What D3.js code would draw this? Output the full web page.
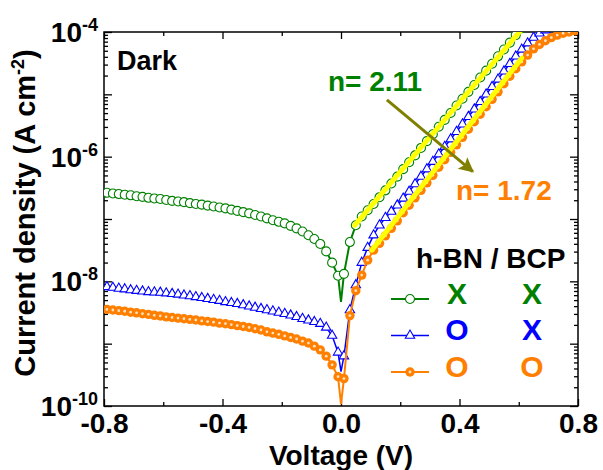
<!DOCTYPE html>
<html>
<head>
<meta charset="utf-8">
<script src="https://cdn.jsdelivr.net/npm/d3@7/dist/d3.min.js"></script>
<style>
body { margin: 0; background: #fff; }
svg text { font-family: Arial, "Liberation Sans", sans-serif; font-weight: bold; }
</style>
</head>
<body>
<div id="chart"></div>
<script>
// bias sweep (V); the 0 V point is drawn as a line spike only
var voltage = [
  -0.79, -0.77, -0.75, -0.73, -0.71, -0.69, -0.67, -0.65, -0.63, -0.61,
  -0.59, -0.57, -0.55, -0.53, -0.51, -0.49, -0.47, -0.45, -0.43, -0.41,
  -0.39, -0.37, -0.35, -0.33, -0.31, -0.29, -0.27, -0.25, -0.23, -0.21,
  -0.19, -0.17, -0.15, -0.13, -0.11, -0.09, -0.07, -0.05, -0.03, -0.01,
  0,
  0.01, 0.03, 0.05, 0.07, 0.09, 0.11, 0.13, 0.15, 0.17, 0.19,
  0.21, 0.23, 0.25, 0.27, 0.29, 0.31, 0.33, 0.35, 0.37, 0.39,
  0.41, 0.43, 0.45, 0.47, 0.49, 0.51, 0.53, 0.55, 0.57, 0.59,
  0.61, 0.63, 0.65, 0.67, 0.69, 0.71, 0.73, 0.75, 0.77, 0.79
];

// log10 of current density (A cm-2)
// h-BN X / BCP X
var logJ_XX = [
  -6.58, -6.59, -6.60, -6.61, -6.62, -6.635, -6.645, -6.66, -6.67, -6.68,
  -6.695, -6.71, -6.72, -6.73, -6.745, -6.76, -6.77, -6.785, -6.80, -6.815,
  -6.83, -6.85, -6.87, -6.89, -6.91, -6.935, -6.96, -6.99, -7.02, -7.045,
  -7.07, -7.11, -7.15, -7.20, -7.26, -7.32, -7.40, -7.52, -7.70, -7.91,
  -8.33,
  -7.88, -7.37, -7.10, -6.96, -6.86, -6.76, -6.65, -6.54, -6.43, -6.32,
  -6.20, -6.09, -5.98, -5.86, -5.75, -5.64, -5.52, -5.41, -5.30, -5.18,
  -5.07, -4.96, -4.85, -4.73, -4.62, -4.51, -4.39, -4.28, -4.17, -4.05,
  -3.94, -3.83, null, null, null, null, null, null, null, null
];
// h-BN O / BCP X
var logJ_OX = [
  -8.09, -8.10, -8.115, -8.125, -8.14, -8.15, -8.16, -8.17, -8.175, -8.18,
  -8.19, -8.20, -8.21, -8.225, -8.235, -8.25, -8.265, -8.28, -8.295, -8.31,
  -8.33, -8.345, -8.36, -8.38, -8.40, -8.42, -8.44, -8.46, -8.48, -8.50,
  -8.52, -8.545, -8.57, -8.60, -8.625, -8.65, -8.68, -8.74, -8.87, -9.14,
  -9.45,
  -9.20, -8.46, -8.06, -7.70, -7.46, -7.26, -7.10, -6.98, -6.88, -6.78,
  -6.67, -6.56, -6.44, -6.32, -6.20, -6.08, -5.96, -5.84, -5.72, -5.60,
  -5.48, -5.36, -5.24, -5.12, -5.00, -4.88, -4.76, -4.63, -4.51, -4.39,
  -4.28, -4.18, -4.09, -4.02, -3.97, -3.93, -3.90, -3.88, -3.86, -3.85
];
// h-BN O / BCP O
var logJ_OO = [
  -8.45, -8.46, -8.47, -8.48, -8.495, -8.505, -8.52, -8.53, -8.545, -8.555,
  -8.57, -8.58, -8.59, -8.60, -8.61, -8.62, -8.635, -8.645, -8.655, -8.67,
  -8.68, -8.695, -8.71, -8.725, -8.74, -8.76, -8.78, -8.81, -8.83, -8.85,
  -8.875, -8.90, -8.925, -8.96, -8.99, -9.04, -9.10, -9.20, -9.34, -9.53,
  -9.97,
  -9.56, -8.55, -8.15, -7.90, -7.66, -7.50, -7.39, -7.27, -7.15, -7.03,
  -6.90, -6.78, -6.66, -6.54, -6.42, -6.30, -6.17, -6.05, -5.93, -5.81,
  -5.69, -5.56, -5.44, -5.32, -5.20, -5.08, -4.96, -4.83, -4.71, -4.59,
  -4.48, -4.37, -4.27, -4.20, -4.14, -4.09, -4.05, -4.02, -4.00, -3.98
];

// ideality fits (yellow lines)
var fitV_XX = [0.047, 0.611];
var fitLogJ_XX = [-7.10, -3.95];
var fitV_OO = [0.104, 0.610];
var fitLogJ_OO = [-7.50, -4.42];

var xTicks = [-0.8, -0.4, 0.0, 0.4, 0.8];
var xMinorTicks = [-0.6, -0.2, 0.2, 0.6];
var yDecades = [-10, -9, -8, -7, -6, -5, -4];
var yLabelExps = [-10, -8, -6, -4];

var legendHbn = ['X', 'O', 'O'];
var legendBcp = ['X', 'X', 'O'];
var idealityText = ['n= 2.11', 'n= 1.72'];

var W = 603, H = 470;
var margin = {left: 104, top: 32, right: 25, bottom: 64};
var plotW = W - margin.left - margin.right;
var plotH = H - margin.top - margin.bottom;

var green = '#008000', blue = '#0000ff', orange = '#ff8000',
    yellow = '#ffff00', olive = '#808000';

var series = [
  {values: logJ_XX, color: green, lineWidth: 2, marker: 'open-circle'},
  {values: logJ_OX, color: blue, lineWidth: 1.5, marker: 'triangle'},
  {values: logJ_OO, color: orange, lineWidth: 2, marker: 'ball'}
];

var svg = d3.select('#chart').append('svg')
  .attr('width', W).attr('height', H);

var x = d3.scaleLinear().domain([-0.8, 0.8]).range([0, plotW]);
var y = d3.scaleLog().domain([1e-10, 1e-4]).range([plotH, 0]);

var g = svg.append('g')
  .attr('transform', 'translate(' + margin.left + ',' + margin.top + ')');

g.append('clipPath').attr('id', 'plotClip')
  .append('rect').attr('width', plotW).attr('height', plotH);

// ticks (all pointing inward)
var yMinor = [];
yDecades.slice(0, -1).forEach(function(d) {
  for (var m = 2; m <= 9; m++) yMinor.push(m * Math.pow(10, d));
});
var yMajor = yDecades.map(function(d) { return Math.pow(10, d); });

function styleAxis(sel) {
  sel.select('.domain').remove();
  sel.selectAll('line').attr('stroke', '#000').attr('stroke-width', 1.3);
}

g.append('g').attr('transform', 'translate(0,' + plotH + ')')
  .call(d3.axisBottom(x).tickValues(xTicks).tickSize(-7).tickPadding(7)
    .tickFormat(function(d) { return d.toFixed(1); }))
  .call(styleAxis)
  .selectAll('text').attr('font-size', 28).attr('fill', '#000')
  .attr('font-family', 'Arial, "Liberation Sans", sans-serif');
g.append('g').attr('transform', 'translate(0,' + plotH + ')')
  .call(d3.axisBottom(x).tickValues(xMinorTicks).tickSize(-4).tickFormat(''))
  .call(styleAxis);
g.append('g')
  .call(d3.axisTop(x).tickValues(xTicks).tickSize(-7).tickFormat(''))
  .call(styleAxis);
g.append('g')
  .call(d3.axisTop(x).tickValues(xMinorTicks).tickSize(-4).tickFormat(''))
  .call(styleAxis);

g.append('g')
  .call(d3.axisLeft(y).tickValues(yMajor).tickSize(-8).tickFormat(''))
  .call(styleAxis);
g.append('g')
  .call(d3.axisLeft(y).tickValues(yMinor).tickSize(-4).tickFormat(''))
  .call(styleAxis);
g.append('g').attr('transform', 'translate(' + plotW + ',0)')
  .call(d3.axisRight(y).tickValues(yMajor).tickSize(-8).tickFormat(''))
  .call(styleAxis);
g.append('g').attr('transform', 'translate(' + plotW + ',0)')
  .call(d3.axisRight(y).tickValues(yMinor).tickSize(-4).tickFormat(''))
  .call(styleAxis);

// y tick labels 10^n
var yLab = g.selectAll('text.ylab').data(yLabelExps).enter().append('text')
  .attr('class', 'ylab')
  .attr('x', -6)
  .attr('y', function(d) { return y(Math.pow(10, d)) + 10; })
  .attr('text-anchor', 'end')
  .attr('font-size', 28);
yLab.append('tspan').text('10');
yLab.append('tspan').attr('dy', -11).attr('font-size', 18)
  .text(function(d) { return String(d); });

// frame
g.append('rect').attr('width', plotW).attr('height', plotH)
  .attr('fill', 'none').attr('stroke', '#000').attr('stroke-width', 1.5);

// data
var plot = g.append('g').attr('clip-path', 'url(#plotClip)');

function points(values) {
  return voltage.map(function(v, i) { return {v: v, j: values[i]}; })
    .filter(function(p) { return p.j !== null; });
}

var line = d3.line()
  .x(function(p) { return x(p.v); })
  .y(function(p) { return y(Math.pow(10, p.j)); });

var triangle = d3.symbol().type(d3.symbolTriangle).size(38);

function drawMarker(sel, kind, color) {
  if (kind === 'open-circle') {
    sel.append('circle').attr('r', 4.5)
      .attr('fill', '#fff').attr('stroke', color).attr('stroke-width', 1.1);
  } else if (kind === 'triangle') {
    sel.append('path').attr('d', triangle)
      .attr('fill', '#fff').attr('stroke', color).attr('stroke-width', 1.1);
  } else {
    sel.append('circle').attr('r', 4.7).attr('fill', color);
    sel.append('circle').attr('r', 1.4).attr('fill', '#ffe2c4');
  }
}

series.forEach(function(s) {
  var pts = points(s.values);
  plot.append('path').datum(pts)
    .attr('d', line)
    .attr('fill', 'none')
    .attr('stroke', s.color)
    .attr('stroke-width', s.lineWidth);

  var m = plot.selectAll(null)
    .data(pts.filter(function(p) { return p.v !== 0; }))
    .enter().append('g')
    .attr('transform', function(p) {
      return 'translate(' + x(p.v) + ',' + y(Math.pow(10, p.j)) + ')';
    });
  drawMarker(m, s.marker, s.color);
});

// yellow fit lines
[[fitV_XX, fitLogJ_XX], [fitV_OO, fitLogJ_OO]].forEach(function(f) {
  var pts = f[0].map(function(v, i) { return {v: v, j: f[1][i]}; });
  plot.append('path').datum(pts).attr('d', line)
    .attr('fill', 'none').attr('stroke', yellow)
    .attr('stroke-width', 5).attr('stroke-linecap', 'round');
});

// arrow from n=2.11 to n=1.72 (in data coordinates)
var arrowFrom = {v: 0.155, j: -5.09}, arrowTo = {v: 0.445, j: -6.24};
svg.append('defs').append('marker')
  .attr('id', 'arrowHead')
  .attr('viewBox', '0 0 10 10').attr('refX', 9).attr('refY', 5)
  .attr('markerWidth', 5.5).attr('markerHeight', 5)
  .attr('markerUnits', 'strokeWidth')
  .attr('orient', 'auto')
  .append('path').attr('d', 'M0,0 L10,5 L0,10 L2,5 Z').attr('fill', olive);
g.append('line')
  .attr('x1', x(arrowFrom.v)).attr('y1', y(Math.pow(10, arrowFrom.j)))
  .attr('x2', x(arrowTo.v)).attr('y2', y(Math.pow(10, arrowTo.j)))
  .attr('stroke', olive).attr('stroke-width', 3)
  .attr('marker-end', 'url(#arrowHead)');

// annotations
svg.append('text').attr('x', 117).attr('y', 70).attr('font-size', 27)
  .attr('fill', '#000').text('Dark');
svg.append('text').attr('x', 328).attr('y', 91).attr('font-size', 28)
  .attr('fill', green).text(idealityText[0]);
svg.append('text').attr('x', 456).attr('y', 200).attr('font-size', 28)
  .attr('fill', orange).text(idealityText[1]);

// legend
var legend = svg.append('g');
legend.append('text').attr('x', 416).attr('y', 268).attr('font-size', 28)
  .attr('fill', '#000').text('h-BN / BCP');
series.forEach(function(s, i) {
  var ly = 299 + i * 36.5;
  legend.append('line').attr('x1', 391).attr('x2', 429)
    .attr('y1', ly).attr('y2', ly)
    .attr('stroke', s.color).attr('stroke-width', s.lineWidth);
  var mk = legend.append('g').attr('transform', 'translate(410,' + ly + ')');
  drawMarker(mk, s.marker, s.color);
  legend.append('text').attr('x', 457).attr('y', ly + 4.5)
    .attr('text-anchor', 'middle').attr('font-size', 30)
    .attr('fill', s.color).text(legendHbn[i]);
  legend.append('text').attr('x', 532).attr('y', ly + 4.5)
    .attr('text-anchor', 'middle').attr('font-size', 30)
    .attr('fill', s.color).text(legendBcp[i]);
});

// axis titles
svg.append('text').attr('x', margin.left + x(0)).attr('y', 465)
  .attr('text-anchor', 'middle').attr('font-size', 28)
  .attr('fill', '#000').text('Voltage (V)');
var yt = svg.append('text')
  .attr('transform', 'translate(35,' + (margin.top + plotH / 2 - 6) + ') rotate(-90)')
  .attr('text-anchor', 'middle').attr('font-size', 29).attr('fill', '#000');
yt.append('tspan').text('Current density (A cm');
yt.append('tspan').attr('dy', -11).attr('font-size', 18).text('-2');
yt.append('tspan').attr('dy', 11).text(')');
</script>
</body>
</html>
